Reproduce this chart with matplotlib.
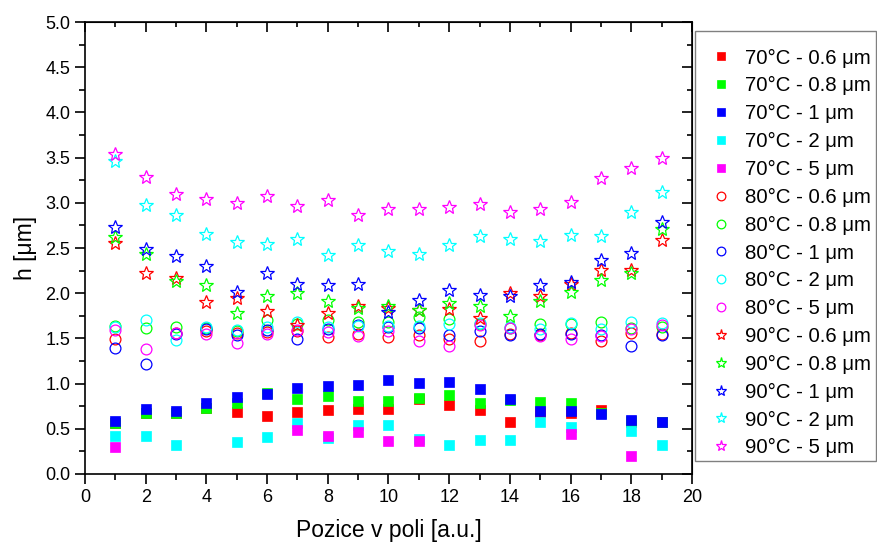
import numpy as np
import matplotlib
matplotlib.use("Agg")
import matplotlib.pyplot as plt
from matplotlib.patches import Rectangle

plt.rcParams['font.family'] = ['Liberation Sans', 'DejaVu Sans']

nan = np.nan
pos = list(range(1, 20))

# 70 C - squares
h70_06 = [0.56, 0.67, 0.67, 0.73, 0.69, 0.64, 0.69, 0.71, 0.72, 0.72, 0.83, 0.76, 0.71, 0.58, 0.69, 0.67, 0.71, 0.58, 0.58]
h70_08 = [0.56, 0.67, 0.67, 0.73, 0.78, 0.90, 0.83, 0.86, 0.81, 0.81, 0.84, 0.87, 0.79, 0.82, 0.80, 0.78, 0.67, 0.59, 0.58]
h70_1 = [0.59, 0.72, 0.70, 0.79, 0.85, 0.88, 0.95, 0.97, 0.98, 1.04, 1.01, 1.02, 0.94, 0.83, 0.70, 0.70, 0.66, 0.60, 0.58]
h70_2 = [0.42, 0.42, 0.32, nan, 0.35, 0.41, 0.56, 0.40, 0.54, 0.54, 0.39, 0.32, 0.38, 0.38, 0.58, 0.52, nan, 0.48, 0.32]
h70_5 = [0.30, nan, nan, nan, nan, nan, 0.49, 0.42, 0.47, 0.37, 0.37, nan, nan, nan, nan, 0.44, nan, 0.20, nan]

# 80 C - circles
h80_06 = [1.49, nan, 1.56, 1.58, 1.56, 1.57, 1.58, 1.52, 1.55, 1.52, 1.54, 1.49, 1.47, 1.55, 1.54, 1.56, 1.47, 1.56, 1.55]
h80_08 = [1.64, 1.62, 1.63, 1.62, 1.58, 1.70, 1.66, 1.70, 1.68, 1.68, 1.74, 1.72, 1.66, 1.62, 1.66, 1.66, 1.68, 1.62, 1.63]
h80_1 = [1.39, 1.22, 1.55, 1.60, 1.54, 1.59, 1.49, 1.60, 1.65, 1.63, 1.62, 1.54, 1.58, 1.54, 1.55, 1.55, 1.54, 1.42, 1.54]
h80_2 = [1.63, 1.70, 1.48, 1.63, 1.59, 1.63, 1.68, 1.63, 1.64, 1.64, 1.64, 1.66, 1.67, 1.63, 1.60, 1.67, 1.60, 1.68, 1.67]
h80_5 = [1.59, 1.38, 1.56, 1.55, 1.45, 1.55, 1.59, 1.57, 1.53, 1.58, 1.47, 1.42, 1.65, 1.61, 1.53, 1.49, 1.53, 1.60, 1.65]

# 90 C - stars
h90_06 = [2.55, 2.22, 2.17, 1.90, 1.95, 1.80, 1.65, 1.78, 1.86, 1.84, 1.81, 1.82, 1.73, 2.00, 1.97, 2.10, 2.26, 2.26, 2.59]
h90_08 = [2.62, 2.43, 2.13, 2.09, 1.78, 1.97, 2.00, 1.91, 1.84, 1.86, 1.81, 1.89, 1.86, 1.75, 1.91, 2.01, 2.15, 2.22, 2.71]
h90_1 = [2.73, 2.49, 2.41, 2.30, 2.01, 2.22, 2.10, 2.09, 2.10, 1.79, 1.92, 2.04, 1.98, 1.97, 2.09, 2.12, 2.37, 2.44, 2.79]
h90_2 = [3.46, 2.98, 2.86, 2.65, 2.57, 2.54, 2.60, 2.42, 2.53, 2.47, 2.43, 2.53, 2.63, 2.60, 2.58, 2.64, 2.63, 2.90, 3.12]
h90_5 = [3.54, 3.28, 3.10, 3.04, 3.00, 3.08, 2.97, 3.03, 2.86, 2.93, 2.93, 2.95, 2.99, 2.90, 2.93, 3.01, 3.27, 3.38, 3.50]

sizes = ["0.6", "0.8", "1", "2", "5"]
colors = ["#ff0000", "#00ff00", "#0000ff", "#00ffff", "#ff00ff"]

groups = [
    ("70", [h70_06, h70_08, h70_1, h70_2, h70_5]),
    ("80", [h80_06, h80_08, h80_1, h80_2, h80_5]),
    ("90", [h90_06, h90_08, h90_1, h90_2, h90_5]),
]

fig = plt.figure(figsize=(8.77, 5.45), dpi=100)
ax = fig.add_axes([0.0969, 0.1303, 0.6921, 0.8293])

for temp, series in groups:
    for s, c, vals in zip(sizes, colors, series):
        label = "%s°C - %s μm" % (temp, s)
        if temp == "70":
            ax.plot(pos, vals, ls="none", marker="s", ms=7.6, mfc=c, mec=c, mew=0.5, label=label)
        elif temp == "80":
            ax.plot(pos, vals, ls="none", marker="o", ms=7.8, mfc="none", mec=c, mew=0.9, label=label)
        else:
            ax.plot(pos, vals, ls="none", marker="*", ms=10, mfc="none", mec=c, mew=0.9, label=label)

ax.set_xlim(0, 20)
ax.set_ylim(0, 5)
ax.set_xticks(range(0, 21, 2))
ax.set_xticks(range(1, 20, 2), minor=True)
ax.set_yticks(np.arange(0, 5.01, 0.5))
ax.set_yticks(np.arange(0.25, 5, 0.5), minor=True)
ax.yaxis.set_major_formatter(matplotlib.ticker.FormatStrFormatter("%.1f"))

ax.tick_params(which="both", direction="out", labelsize=13, width=1.2)
ax.tick_params(which="major", length=7)
ax.tick_params(which="minor", length=4)
for sp in ax.spines.values():
    sp.set_linewidth(1.2)

# mirrored inward ticks on top and right
axt = ax.secondary_xaxis("top")
axt.set_xticks(range(0, 21, 2))
axt.set_xticks(range(1, 20, 2), minor=True)
axt.tick_params(which="both", direction="in", labeltop=False, width=1.2)
axt.tick_params(which="major", length=7)
axt.tick_params(which="minor", length=3.5)
axr = ax.secondary_yaxis("right")
axr.set_yticks(np.arange(0, 5.01, 0.5))
axr.set_yticks(np.arange(0.25, 5, 0.5), minor=True)
axr.tick_params(which="both", direction="in", labelright=False, width=1.2)
axr.tick_params(which="major", length=7)
axr.tick_params(which="minor", length=3.5)

ax.set_xlabel("Pozice v poli [a.u.]", fontsize=16.5, labelpad=10)
ax.set_ylabel("h [μm]", fontsize=16.5, labelpad=6)

# legend box drawn separately so its size matches the original
fig.patches.append(Rectangle((695 / 877, 1 - 461 / 545), 181 / 877, 430 / 545,
                             transform=fig.transFigure, fill=False,
                             edgecolor="#808080", linewidth=1.0))
leg = ax.legend(loc="upper left", bbox_to_anchor=(0.7925, 0.939), bbox_transform=fig.transFigure,
                fontsize=14.7, frameon=False,
                handlelength=1.0, handletextpad=0.7, labelspacing=0.43, borderpad=0.75,
                borderaxespad=0, markerscale=0.8)

fig.savefig("out.png", dpi=100)
